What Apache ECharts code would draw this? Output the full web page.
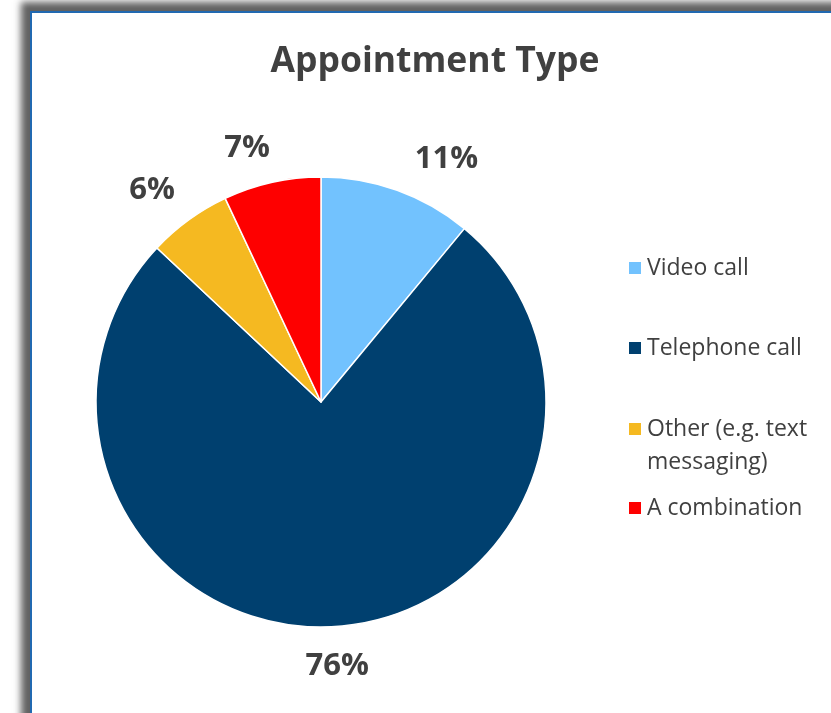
<!DOCTYPE html>
<html>
<head>
<meta charset="utf-8">
<script src="https://cdn.jsdelivr.net/npm/echarts@6/dist/echarts.min.js"></script>
<style>
  html, body { margin: 0; padding: 0; background: #ffffff; overflow: hidden; }
  #frame {
    position: absolute; left: 30px; top: 11px; width: 900px; height: 800px;
    border: 2px solid #2169b1; background: #ffffff;
    box-shadow: -9px -9px 7px rgba(70, 70, 70, 0.85);
  }
  #chart { position: absolute; left: 0; top: 0; width: 831px; height: 713px; }
</style>
</head>
<body>
<div id="frame"></div>
<div id="chart"></div>
<script>
// Appointment type shares (percent)
const categories = ['Video call', 'Telephone call', 'Other (e.g. text messaging)', 'A combination'];
const shares = [11, 76, 6, 7];
const colors = ['#72c2fe', '#00406f', '#f5b921', '#fe0000'];

// small per-label nudges so the percentages sit like outside-end labels
const labelNudgeX = [0, -37, 13, 11];
const labelNudgeY = [4, 3, 0, 2];

const textColor = '#404040';
const font = '"Open Sans", "Noto Sans", sans-serif';

const chart = echarts.init(document.getElementById('chart'), null, { renderer: 'canvas' });

const legendText = {
  color: textColor, fontFamily: font, fontSize: 23, lineHeight: 33, padding: 0
};
const legendBase = {
  orient: 'vertical', left: 622, itemWidth: 14, itemHeight: 14, icon: 'rect',
  selectedMode: false, textStyle: legendText
};

chart.setOption({
  backgroundColor: 'transparent',
  title: {
    text: 'Appointment Type',
    left: 430, top: 39, textAlign: 'center',
    textStyle: { color: textColor, fontFamily: font, fontSize: 35.5, fontWeight: 'bold' }
  },
  legend: [
    Object.assign({}, legendBase, { top: 246.5, itemGap: 47, data: [categories[0], categories[1]] }),
    // wrapped entry: a leading blank line keeps the swatch level with the first text line
    Object.assign({}, legendBase, {
      top: 374.5, data: [categories[2]],
      formatter: name => '\n' + name.replace(' text ', ' text\n')
    }),
    Object.assign({}, legendBase, { top: 486.5, data: [categories[3]] })
  ],
  series: [{
    type: 'pie',
    center: [321, 402],
    radius: 225,
    startAngle: 90,
    clockwise: true,
    avoidLabelOverlap: false,
    animation: false,
    itemStyle: { borderColor: '#ffffff', borderWidth: 1.5 },
    label: {
      show: true, position: 'outside', formatter: '{c}%',
      color: textColor, fontFamily: font, fontSize: 31, fontWeight: 'bold'
    },
    labelLine: { show: false, length: 37, length2: 0 },
    labelLayout: p => ({ dx: labelNudgeX[p.dataIndex], dy: labelNudgeY[p.dataIndex] }),
    emphasis: { disabled: true },
    data: categories.map((name, i) => ({ name, value: shares[i], itemStyle: { color: colors[i] } }))
  }]
});
</script>
</body>
</html>
